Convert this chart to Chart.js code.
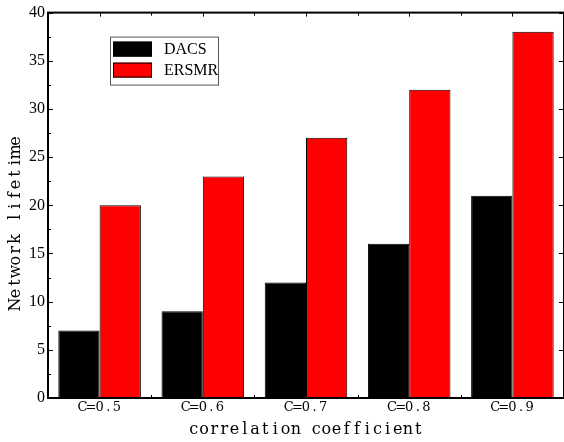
<!DOCTYPE html>
<html>
<head>
<meta charset="utf-8">
<script src="https://cdn.jsdelivr.net/npm/chart.js@4/dist/chart.umd.min.js"></script>
<style>
  html, body { margin: 0; padding: 0; background: #fff; }
  #wrap { width: 564px; height: 442px; }
</style>
</head>
<body>
<div id="wrap"><canvas id="c" width="564" height="442"></canvas></div>
<script>
// data
const categories = ["C=0.5", "C=0.6", "C=0.7", "C=0.8", "C=0.9"];
const dacs = [7, 9, 12, 16, 21];
const ersmr = [20, 23, 27, 32, 38];
const seriesNames = ["DACS", "ERSMR"];
const yTicks = [0, 5, 10, 15, 20, 25, 30, 35, 40];
const xTitle = "correlation coefficient";
const yTitle = "Network lifetime";

const serifFont = "'Liberation Serif', 'DejaVu Serif', serif";
const wideSerif = "'DejaVu Serif', 'Liberation Serif', serif";

// the original uses a fixed-pitch serif (SimSun-like), so space chars evenly
function monoText(ctx, text, cx, cy, adv) {
  const x0 = cx - (text.length * adv) / 2;
  ctx.textAlign = "center";
  ctx.textBaseline = "middle";
  for (let i = 0; i < text.length; i++) {
    ctx.fillText(text[i], x0 + (i + 0.5) * adv, cy);
  }
}

const framePlugin = {
  id: "frame",
  afterDraw(chart) {
    const { ctx, chartArea: a, scales } = chart;
    ctx.save();
    ctx.strokeStyle = "#000";
    ctx.lineWidth = 2;
    ctx.strokeRect(a.left, a.top, a.right - a.left, a.bottom - a.top);

    // y ticks (major every 5, minor in between)
    ctx.lineWidth = 1;
    yTicks.forEach((v, i) => {
      const y = Math.round(scales.y.getPixelForValue(v)) + 0.5;
      ctx.beginPath();
      ctx.moveTo(a.left, y); ctx.lineTo(a.left + 5, y);
      ctx.moveTo(a.right, y); ctx.lineTo(a.right - 5, y);
      ctx.stroke();
      if (i < yTicks.length - 1) {
        const ym = Math.round(scales.y.getPixelForValue(v + 2.5)) + 0.5;
        ctx.beginPath();
        ctx.moveTo(a.left, ym); ctx.lineTo(a.left + 3, ym);
        ctx.stroke();
      }
    });

    // x ticks at category centres and boundaries, plus labels
    const xs = scales.x;
    ctx.fillStyle = "#000";
    ctx.font = "13px " + wideSerif;
    categories.forEach((c, i) => {
      const xc = Math.round(xs.getPixelForValue(i)) + 0.5;
      const xb = Math.round(xs.getPixelForValue(i + 0.5)) + 0.5;
      ctx.beginPath();
      ctx.moveTo(xc, a.top); ctx.lineTo(xc, a.top + 4);
      ctx.moveTo(xb, a.top); ctx.lineTo(xb, a.top + 3);
      ctx.moveTo(xb, a.bottom); ctx.lineTo(xb, a.bottom - 3);
      ctx.stroke();
      monoText(ctx, c, xs.getPixelForValue(i), a.bottom + 10, 8.6);
    });

    // axis titles
    ctx.font = "16px " + wideSerif;
    monoText(ctx, xTitle, (a.left + a.right) / 2, a.bottom + 32, 10.2);
    ctx.save();
    ctx.translate(16, a.top + (a.bottom - a.top) * 0.545);
    ctx.rotate(-Math.PI / 2);
    monoText(ctx, yTitle, 0, 0, 10.9);
    ctx.restore();

    // legend
    const lx = a.left + 62, ly = a.top + 24;
    ctx.strokeStyle = "#555";
    ctx.lineWidth = 1;
    ctx.strokeRect(lx + 0.5, ly + 0.5, 108, 48);
    ctx.font = "16px " + serifFont;
    ctx.textAlign = "left";
    ctx.textBaseline = "middle";
    chart.data.datasets.forEach((ds, i) => {
      const ry = ly + 5 + i * 21;
      ctx.fillStyle = ds.backgroundColor;
      ctx.fillRect(lx + 3, ry, 39, 15);
      ctx.strokeStyle = "#000";
      ctx.strokeRect(lx + 3.5, ry + 0.5, 38, 14);
      ctx.fillStyle = "#000";
      ctx.fillText(ds.label, lx + 54, ry + 8);
    });
    ctx.restore();
  }
};

new Chart(document.getElementById("c"), {
  type: "bar",
  data: {
    labels: categories,
    datasets: [
      { label: seriesNames[0], data: dacs, backgroundColor: "#000000", borderColor: "#000", borderWidth: 1 },
      { label: seriesNames[1], data: ersmr, backgroundColor: "#ff0000", borderColor: "#000", borderWidth: 1 }
    ]
  },
  options: {
    responsive: false,
    animation: false,
    layout: { padding: { top: 12, right: 0, left: 0, bottom: 0 } },
    datasets: { bar: { categoryPercentage: 0.8, barPercentage: 1.0 } },
    plugins: {
      legend: { display: false },
      tooltip: { enabled: false }
    },
    scales: {
      x: {
        grid: { display: false, drawTicks: false },
        border: { display: false },
        ticks: { display: false },
        afterFit: s => { s.height = 44; }
      },
      y: {
        min: 0, max: 40,
        grid: { display: false, drawTicks: false },
        border: { display: false },
        ticks: { stepSize: 5, color: "#000", font: { family: serifFont, size: 16 }, padding: 3 },
        afterFit: s => { s.width = 48; }
      }
    }
  },
  plugins: [framePlugin]
});
</script>
</body>
</html>
